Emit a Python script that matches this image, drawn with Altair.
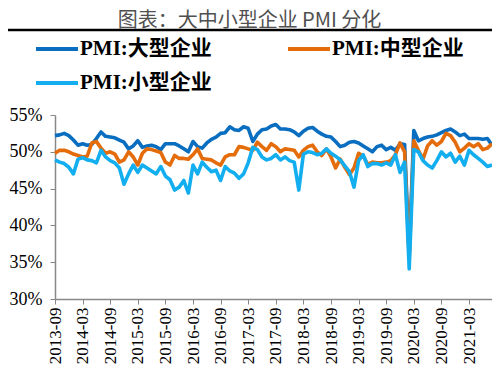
import altair as alt
import pandas as pd

months = [d.strftime("%Y-%m") for d in pd.date_range("2013-09-01", "2021-08-01", freq="MS")]

tick_labels = ["2013-09", "2014-03", "2014-09", "2015-03", "2015-09", "2016-03",
               "2016-09", "2017-03", "2017-09", "2018-03", "2018-09", "2019-03",
               "2019-09", "2020-03", "2020-09", "2021-03"]

series_names = ["PMI:大型企业", "PMI:中型企业", "PMI:小型企业"]
# legend fills column by column: order so it reads 大型, 中型 / 小型
legend_order = ["PMI:大型企业", "PMI:小型企业", "PMI:中型企业"]
legend_colors = ["#0A6EC0", "#12AEEF", "#E46C0A"]

large = [52.2, 52.3, 52.5, 52.2, 51.6, 50.9, 51.1, 50.9, 51.0, 51.8,
         52.7, 52.1, 52.0, 51.9, 51.6, 51.3, 50.4, 50.8, 51.5, 50.6,
         50.8, 50.9, 50.7, 50.3, 51.1, 51.1, 51.1, 50.8, 50.4, 50.0,
         51.4, 50.7, 50.5, 51.2, 51.7, 52.0, 52.5, 52.6, 53.4, 53.0,
         52.9, 53.4, 53.2, 51.4, 52.4, 53.0, 53.1, 53.5, 53.7, 53.1,
         53.1, 53.0, 52.7, 52.2, 52.8, 53.2, 53.3, 52.8, 52.4, 52.1,
         52.0, 51.4, 50.7, 50.9, 51.3, 51.4, 51.2, 50.8, 50.4, 50.0,
         50.7, 50.9, 50.3, 50.6, 50.2, 51.1, 51.0, 36.1, 52.9, 51.5,
         51.8, 52.0, 52.1, 52.3, 52.6, 52.9, 53.1, 52.7, 52.2, 52.4,
         51.8, 51.8, 51.8, 51.7, 51.8, 50.9]

medium = [49.8, 50.2, 50.2, 50.0, 49.7, 49.5, 49.3, 49.4, 51.2, 51.4,
          50.5, 49.8, 50.0, 49.7, 48.6, 48.9, 50.0, 49.3, 48.2, 49.8,
          50.4, 50.3, 50.1, 49.9, 48.6, 48.2, 49.5, 49.1, 49.1, 49.0,
          49.6, 50.4, 49.1, 49.0, 48.9, 48.5, 48.2, 49.3, 49.6, 49.6,
          50.7, 50.6, 50.4, 50.2, 51.3, 50.7, 50.2, 51.1, 50.7, 50.0,
          50.4, 50.3, 50.2, 49.3, 50.2, 50.7, 50.9, 50.0, 49.5, 50.4,
          49.3, 47.8, 49.0, 47.9, 46.9, 47.8, 49.8, 49.4, 48.3, 48.6,
          48.5, 48.5, 48.6, 48.8, 49.6, 51.2, 50.0, 35.5, 51.5, 50.2,
          49.0, 50.8, 51.5, 50.9, 51.4, 52.5, 52.2, 51.3, 50.0, 50.5,
          51.1, 50.7, 51.1, 50.3, 50.5, 51.1]

small = [48.9, 48.6, 48.4, 47.9, 47.0, 49.0, 49.2, 48.9, 48.8, 48.5,
         50.2, 49.3, 48.8, 48.5, 47.8, 45.6, 47.0, 48.2, 47.2, 48.2,
         47.8, 47.4, 47.0, 48.0, 46.7, 46.2, 44.8, 45.2, 46.1, 44.4,
         48.2, 47.0, 48.6, 47.9, 47.3, 47.5, 46.1, 48.0, 47.4, 47.1,
         46.4, 47.0, 48.5, 50.6, 50.3, 49.3, 48.9, 49.1, 49.6, 48.9,
         49.3, 48.8, 48.6, 44.8, 49.7, 50.0, 49.9, 49.6, 49.8, 50.4,
         49.8, 49.4, 48.9, 48.1, 47.3, 45.2, 48.8, 49.6, 48.0, 48.4,
         48.4, 48.2, 48.5, 48.2, 49.6, 47.2, 48.6, 34.1, 50.3, 50.0,
         48.8, 48.2, 47.8, 48.8, 50.0, 49.3, 49.8, 48.6, 49.4, 48.2,
         50.2, 49.6, 49.1, 48.6, 48.0, 48.2]

y_ticks = [30, 35, 40, 45, 50, 55]

rows = []
for name, vals in zip(series_names, [large, medium, small]):
    for m, v in zip(months, vals):
        rows.append({"month": m, "series": name, "value": v})
df = pd.DataFrame(rows)

x_enc = alt.X("month:O", scale=alt.Scale(type="point", padding=0),
              axis=alt.Axis(values=tick_labels, labelAngle=270, title=None,
                            labelFont="Liberation Serif", labelFontSize=17,
                            labelColor="black", labelPadding=3,
                            domainColor="#888888", tickColor="#888888",
                            tickSize=5, domainWidth=1.5, grid=False))
y_enc = alt.Y("value:Q", scale=alt.Scale(domain=[30, 55], nice=False, zero=False),
              axis=alt.Axis(values=y_ticks, labelExpr="datum.value + '%'", title=None,
                            labelFont="Liberation Serif", labelFontSize=18,
                            labelColor="black", labelPadding=8,
                            domainColor="#888888", tickColor="#888888",
                            tickSize=5, domainWidth=1.5, grid=False))
c_enc = alt.Color("series:N",
                  scale=alt.Scale(domain=legend_order, range=legend_colors),
                  legend=alt.Legend(orient="none", legendX=-21, legendY=-89,
                                    columns=2, columnPadding=68, rowPadding=1,
                                    symbolType="stroke", symbolSize=1764,
                                    symbolStrokeWidth=4, labelOffset=0,
                                    labelFont="Liberation Serif, Noto Sans CJK SC",
                                    labelFontSize=21, labelFontWeight="bold",
                                    labelColor="black", title=None, padding=0,
                                    labelLimit=300))

base = alt.Chart(df)
line_layers = [
    base.transform_filter(alt.datum.series == name)
        .mark_line(strokeWidth=3.6, strokeJoin="round")
        .encode(x=x_enc, y=y_enc, color=c_enc)
    for name in series_names
]

rule = alt.Chart(pd.DataFrame({"k": [0]})).mark_rule(color="black", strokeWidth=2.5).encode(
    x=alt.value(-47), x2=alt.value(440), y=alt.value(-85)
)

chart = alt.layer(*line_layers, rule).properties(
    width=437, height=184,
    autosize=alt.AutoSizeParams(type="none"),
    padding={"left": 47, "top": 107, "right": 0, "bottom": 79},
    title=alt.TitleParams("图表：大中小型企业 PMI 分化", anchor="middle", frame="group",
                          font="Noto Sans CJK SC", fontSize=20, fontWeight="normal",
                          color="#505050", offset=10, dx=-24, dy=15),
).configure_view(stroke=None)

chart.save("out.html", embed_options={"renderer": "svg", "actions": False})
